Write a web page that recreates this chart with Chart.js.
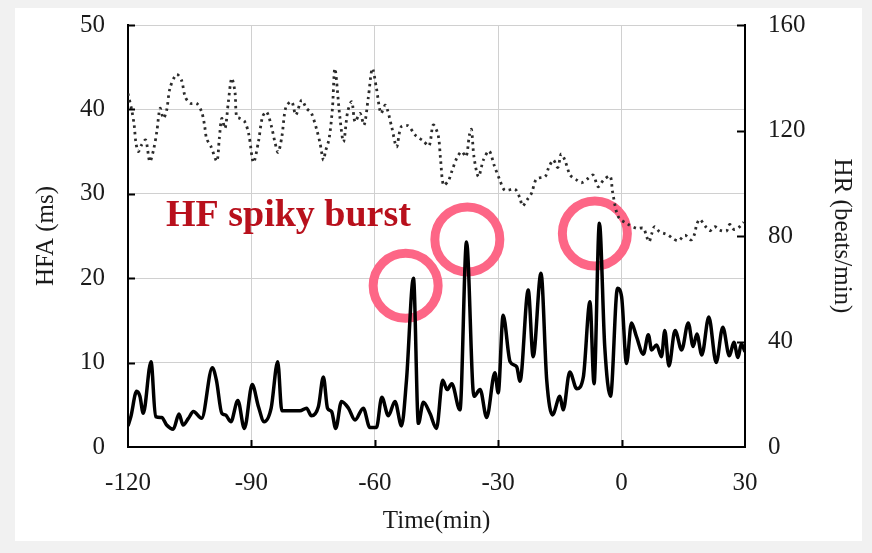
<!DOCTYPE html>
<html>
<head>
<meta charset="utf-8">
<script src="https://cdn.jsdelivr.net/npm/chart.js@4.4.1/dist/chart.umd.min.js"></script>
<style>
  html, body { margin: 0; padding: 0; background: #f1f1f1; }
  #panel { position: absolute; left: 15px; top: 8px; width: 847px; height: 533px; background: #fff; }
  #chart { position: absolute; left: 0; top: 0; }
</style>
</head>
<body>
<div id="panel"></div>
<canvas id="chart" width="872" height="553"></canvas>
<script>
// HFA (ms), solid line, left axis
const hfaTime = [-120, -119.3, -117.9, -117.1, -116.3, -114.4, -113.3, -111.8, -110.6, -109.0, -107.6, -106.6,
  -105.3, -104.1, -102.1, -99.5, -98.5, -97.2, -96.3, -95.0, -93.3, -91.7, -89.8, -88.3, -86.9, -85.2, -83.6,
  -82.6, -80.2, -78.2, -76.6, -75.4, -73.7, -72.5, -71.5, -70.5, -69.5, -68.1, -66.4, -64.8, -62.8, -61.2, -59.6,
  -58.3, -56.7, -55.1, -53.5, -52.3, -50.6, -49.4, -48.2, -46.6, -45.0, -43.5, -42.4, -41.3, -39.3, -37.7, -35.9,
  -34.4, -32.8, -30.8, -30.0, -28.8, -27.1, -25.5, -24.7, -22.7, -21.5, -19.6, -18.2, -16.8, -15.0, -14.2, -12.6,
  -10.9, -9.3, -7.7, -6.7, -5.4, -4.1, -2.7, -1.0, 0.0, 1.2, 2.4, 3.6, 5.3, 6.5, 7.3, 8.5, 9.7, 10.5, 11.5, 13.0,
  14.6, 16.2, 17.4, 18.3, 19.5, 21.2, 23.0, 24.6, 26.2, 27.3, 28.3, 29.1, 30.0];
const hfaValue = [2.5, 3.6, 6.6, 6.0, 4.0, 10.1, 3.6, 3.5, 2.6, 2.1, 3.9, 2.6,
  3.4, 4.2, 3.4, 9.4, 7.9, 4.0, 3.8, 3.0, 5.5, 2.2, 7.4, 4.8, 3.0, 4.6, 10.1,
  4.3, 4.3, 4.3, 4.6, 3.7, 4.8, 8.3, 4.6, 4.2, 2.2, 5.4, 4.6, 3.2, 4.6, 2.3, 2.3,
  5.9, 3.7, 5.4, 2.5, 7.9, 20.0, 2.8, 5.3, 4.0, 2.2, 7.9, 6.8, 7.5, 4.4, 24.3, 6.0,
  6.8, 3.5, 8.8, 6.4, 15.6, 10.1, 9.5, 7.8, 18.6, 10.7, 20.6, 7.9, 3.8, 6.0, 4.4, 8.9,
  6.9, 8.3, 17.2, 7.5, 26.5, 11.9, 6.0, 18.8, 17.8, 9.9, 14.7, 13.1, 11.0, 13.3, 11.5, 12.1, 10.7, 13.8, 9.6, 13.8,
  11.5, 14.7, 11.9, 13.4, 10.9, 15.4, 10.0, 14.2, 10.8, 12.4, 10.6, 12.2, 11.3];

// HR (beats/min), dotted line, right axis
const hrTime = [-120, -119.1, -118.5, -118.1, -117.5, -116.7, -115.7, -114.7, -113.8, -113.0, -112.2, -111.4,
  -110.6, -109.8, -108.2, -107.0, -106.1, -104.9, -103.3, -102.1, -101.4, -100.9, -99.8, -98.4, -97.8, -97.2,
  -96.4, -95.6, -94.8, -94.0, -93.6, -92.8, -91.6, -90.6, -89.5, -88.3, -87.3, -86.3, -85.1, -84.3, -83.5, -82.6,
  -81.6, -80.2, -79.2, -77.8, -76.6, -75.4, -74.1, -73.3, -72.5, -72.0, -71.1, -70.3, -69.7, -68.5, -67.6, -66.6,
  -65.6, -64.8, -63.6, -62.6, -61.6, -60.6, -59.6, -58.5, -57.4, -55.9, -54.7, -53.6, -51.9, -50.2, -48.2, -46.8,
  -45.8, -44.6, -44.0, -43.3, -42.1, -41.3, -40.1, -38.9, -37.8, -37.0, -36.5, -35.9, -34.8, -33.6, -32.2, -31.0,
  -29.6, -28.4, -25.9, -24.7, -24.1, -22.9, -21.9, -20.7, -18.6, -17.8, -16.6, -15.5, -14.7, -13.8, -12.5, -10.9,
  -9.7, -8.1, -6.9, -5.7, -4.4, -2.8, -2.2, -0.8, 1.5, 3.7, 5.3, 6.1, 6.7, 7.3, 8.0, 9.2, 10.3, 11.4, 12.4, 13.8,
  15.4, 16.9, 17.8, 18.2, 19.0, 20.3, 21.5, 22.7, 23.9, 25.5, 26.3, 27.3, 28.4, 29.7];
const hrValue = [134, 127.8, 122.1, 115.7, 112.0, 114.5, 116.4, 108.2, 112.6, 119.5, 128.4, 124.6,
  127.7, 136.0, 141.3, 139.1, 132.8, 130.3, 130.3, 127.1, 122.1, 117.0, 113.8, 108.4, 117.0, 124.6,
  120.8, 130.9, 139.8, 134.7, 125.2, 124.6, 123.3, 118.3, 107.9, 115.7, 125.2, 127.1, 121.4, 115.7, 111.7, 117.6,
  129.0, 130.9, 125.9, 131.5, 128.4, 126.5, 120.2, 115.1, 108.8, 112.0, 117.0, 128.4, 143.5, 125.2, 115.7, 127.1,
  130.9, 123.3, 126.5, 122.1, 132.2, 143.5, 136.0, 126.5, 129.6, 121.4, 113.8, 121.4, 121.8, 118.3, 116.0, 114.2,
  122.1, 118.3, 108.8, 99.3, 101.0, 104.4, 109.4, 112.0, 110.1, 118.3, 120.4, 110.1, 102.5, 108.8, 112.3, 106.9,
  101.2, 97.4, 97.7, 94.3, 91.4, 93.9, 96.2, 101.6, 102.5, 105.6, 108.8, 106.0, 111.1, 108.8, 103.1, 101.2,
  100.2, 101.9, 103.1, 98.7, 101.2, 102.7, 96.8, 87.3, 84.5, 82.9, 82.9, 79.7, 77.8, 80.7, 83.5, 81.6, 81.0, 80.3, 79.1, 78.2,
  80.3, 78.5, 81.0, 84.1, 86.3, 83.8, 82.0, 83.5, 82.2, 81.9, 84.4, 82.5, 83.1, 85.2];

// axes
const timeTicks = [-120, -90, -60, -30, 0, 30];
const hfaTicks = [0, 10, 20, 30, 40, 50];
const hrTicks = [0, 40, 80, 120, 160];

// annotation (data units: time, HFA)
const burstLabel = 'HF spiky burst';
const burstLabelAt = [-81, 27.4];
const burstCircles = [[-52.5, 19.1], [-37.5, 24.6], [-6.5, 25.3]];

const serif = '"Liberation Serif", "Times New Roman", serif';
const textColor = '#1a1a1a';
const gridColor = '#d0d0d0';

const toPoints = (xs, ys) => xs.map((x, i) => ({ x: x, y: ys[i] }));

// pink rings under the lines, label and inward tick marks on top
const annotations = {
  id: 'annotations',
  beforeDatasetsDraw(chart) {
    const { ctx, scales } = chart;
    ctx.save();
    ctx.strokeStyle = '#fd6686';
    ctx.lineWidth = 9;
    burstCircles.forEach(([t, v]) => {
      ctx.beginPath();
      ctx.arc(scales.x.getPixelForValue(t), scales.y.getPixelForValue(v), 32.5, 0, Math.PI * 2);
      ctx.stroke();
    });
    ctx.restore();
  },
  afterDraw(chart) {
    const { ctx, scales, chartArea } = chart;
    ctx.save();
    ctx.fillStyle = '#b8101c';
    ctx.font = 'bold 38px ' + serif;
    ctx.textAlign = 'center';
    ctx.textBaseline = 'middle';
    ctx.fillText(burstLabel, scales.x.getPixelForValue(burstLabelAt[0]), scales.y.getPixelForValue(burstLabelAt[1]));

    ctx.strokeStyle = '#000';
    ctx.lineWidth = 2;
    ctx.beginPath();
    hfaTicks.slice(1).forEach(v => {
      const py = Math.round(scales.y.getPixelForValue(v)) + 0.5;
      ctx.moveTo(chartArea.left, py);
      ctx.lineTo(chartArea.left + 7, py);
    });
    hrTicks.slice(1).forEach(v => {
      const py = Math.round(scales.y1.getPixelForValue(v)) + 0.5;
      ctx.moveTo(chartArea.right, py);
      ctx.lineTo(chartArea.right - 8, py);
    });
    timeTicks.slice(1, -1).forEach(v => {
      const px = Math.round(scales.x.getPixelForValue(v)) + 0.5;
      ctx.moveTo(px, chartArea.bottom);
      ctx.lineTo(px, chartArea.bottom - 7);
    });
    ctx.stroke();
    ctx.restore();
  }
};

new Chart(document.getElementById('chart'), {
  type: 'line',
  data: {
    datasets: [
      {
        label: 'HFA',
        data: toPoints(hfaTime, hfaValue),
        yAxisID: 'y',
        borderColor: '#000',
        borderWidth: 3.5,
        cubicInterpolationMode: 'monotone',
        pointRadius: 0
      },
      {
        label: 'HR',
        data: toPoints(hrTime, hrValue),
        yAxisID: 'y1',
        borderColor: '#2b2b2b',
        borderWidth: 2.8,
        borderDash: [2.5, 4],
        tension: 0.3,
        pointRadius: 0
      }
    ]
  },
  options: {
    responsive: false,
    animation: false,
    events: [],
    layout: { padding: { top: 25, left: 0, right: 0, bottom: 0 } },
    plugins: { legend: { display: false }, tooltip: { enabled: false } },
    scales: {
      x: {
        type: 'linear',
        min: timeTicks[0],
        max: timeTicks[timeTicks.length - 1],
        afterBuildTicks: s => { s.ticks = timeTicks.map(v => ({ value: v })); },
        afterFit: s => { s.height = 106; },
        grid: { color: gridColor, lineWidth: 1, drawTicks: false },
        border: { color: '#000', width: 2 },
        ticks: { font: { family: serif, size: 25 }, color: textColor, padding: 21, maxRotation: 0 },
        title: { display: true, text: 'Time(min)', font: { family: serif, size: 25 }, color: textColor, padding: { bottom: 17 } }
      },
      y: {
        position: 'left',
        min: hfaTicks[0],
        max: hfaTicks[hfaTicks.length - 1],
        afterBuildTicks: s => { s.ticks = hfaTicks.map(v => ({ value: v })); },
        afterFit: s => { s.width = 128; },
        // tick length only spaces the labels off the axis; marks are drawn inward by the plugin
        grid: { color: gridColor, lineWidth: 1, drawTicks: true, tickLength: 23, tickColor: 'rgba(0,0,0,0)' },
        border: { color: '#000', width: 2 },
        ticks: { font: { family: serif, size: 25 }, color: textColor, padding: 0 },
        title: { display: true, text: 'HFA (ms)', font: { family: serif, size: 25 }, color: textColor, padding: { top: 31 } }
      },
      y1: {
        position: 'right',
        min: hrTicks[0],
        max: hrTicks[hrTicks.length - 1],
        afterBuildTicks: s => { s.ticks = hrTicks.map(v => ({ value: v })); },
        afterFit: s => { s.width = 127; },
        grid: { drawOnChartArea: false, drawTicks: true, tickLength: 23, tickColor: 'rgba(0,0,0,0)' },
        border: { color: '#000', width: 2 },
        ticks: { font: { family: serif, size: 25 }, color: textColor, padding: 0 },
        title: { display: true, text: 'HR (beats/min)', font: { family: serif, size: 25 }, color: textColor, padding: { top: 15 } }
      }
    }
  },
  plugins: [annotations]
});
</script>
</body>
</html>
